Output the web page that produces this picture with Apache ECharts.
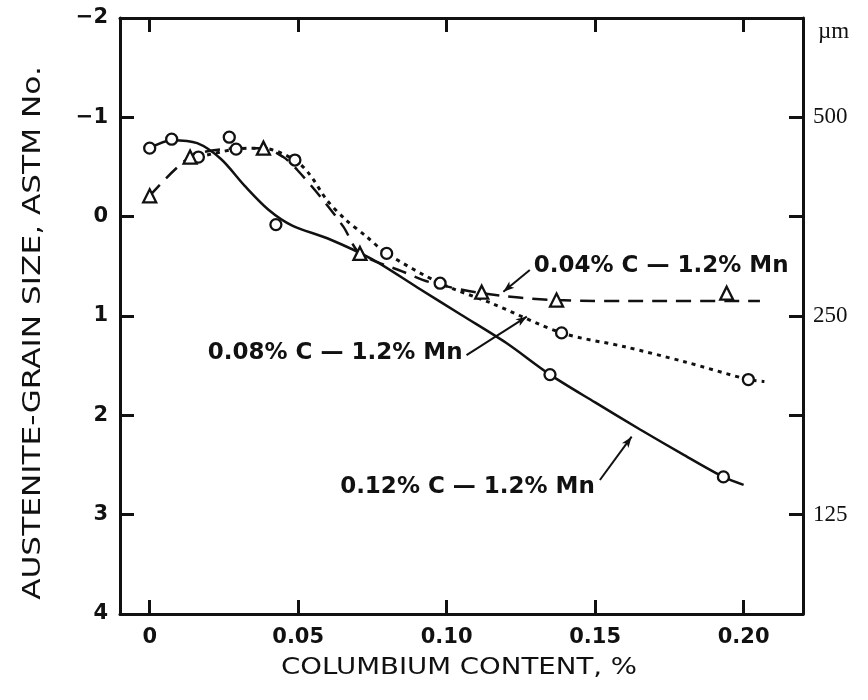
<!DOCTYPE html>
<html><head><meta charset="utf-8">
<script src="https://cdn.jsdelivr.net/npm/echarts@6/dist/echarts.min.js"></script>
<style>html,body{margin:0;padding:0;background:#fff}#c{width:868px;height:700px}</style>
</head><body><div id="c"></div>
<script>
// ---- axis ticks / labels ----
const xTicks = [0, 0.05, 0.10, 0.15, 0.20];
const yTickValues = [-2, -1, 0, 1, 2, 3, 4];
const rightLabelValues = [-1, 1, 3];
const rightLabelTexts = ['500', '250', '125'];
const rightUnit = 'µm';
const xTitle = 'COLUMBIUM CONTENT, %';
const yTitle = 'AUSTENITE-GRAIN SIZE, ASTM No.';

// ---- 0.12% C - 1.2% Mn (solid, circles) ----
const c12Name = '0.12% C — 1.2% Mn';
const c12Points = [[0.0,-0.69],[0.0074,-0.78],[0.0425,0.08],[0.1348,1.59],[0.1932,2.62]];
const c12Curve = [[0.0,-0.69],[0.0074,-0.77],[0.016,-0.74],[0.024,-0.58],[0.032,-0.31],[0.040,-0.07],
  [0.048,0.09],[0.060,0.22],[0.075,0.43],[0.09,0.71],[0.105,0.99],[0.12,1.27],[0.1348,1.59],
  [0.15,1.87],[0.165,2.14],[0.18,2.40],[0.1932,2.62],[0.2,2.70]];

// ---- 0.08% C - 1.2% Mn (dotted, circles) ----
const c08Name = '0.08% C — 1.2% Mn';
const c08Points = [[0.0164,-0.60],[0.0268,-0.80],[0.0291,-0.68],[0.0489,-0.57],[0.0798,0.37],[0.0978,0.67],[0.1387,1.17],[0.2016,1.64]];
const c08Curve = [[0.0164,-0.60],[0.0291,-0.68],[0.038,-0.69],[0.0489,-0.57],[0.054,-0.42],[0.0596,-0.17],
  [0.066,0.03],[0.073,0.20],[0.0798,0.37],[0.0978,0.67],[0.115,0.87],[0.1387,1.17],[0.16,1.31],
  [0.18,1.46],[0.2016,1.64],[0.207,1.66]];

// ---- 0.04% C - 1.2% Mn (dashed, triangles) ----
const c04Name = '0.04% C — 1.2% Mn';
const c04Points = [[0.0,-0.21],[0.0136,-0.60],[0.0383,-0.69],[0.0708,0.37],[0.1118,0.76],[0.137,0.84],[0.1943,0.77]];
const c04Curve = [[0.0,-0.21],[0.0136,-0.60],[0.025,-0.68],[0.0383,-0.69],[0.045,-0.60],[0.0497,-0.47],
  [0.0575,-0.20],[0.0652,0.10],[0.0708,0.37],[0.085,0.55],[0.0944,0.66],[0.1118,0.77],[0.137,0.84],
  [0.17,0.85],[0.2055,0.85]];

// ---- annotation arrows (data coords: from -> to) ----
const note04 = {from:[0.128,0.537], to:[0.1191,0.755]};
const note08 = {from:[0.1067,1.393], to:[0.127,1.007]};
const note12 = {from:[0.1516,2.651], to:[0.1623,2.215]};

const chart = echarts.init(document.getElementById('c'));
const BLACK = '#111';
const tickFont = {color: BLACK, fontFamily: 'DejaVu Sans', fontWeight: 'bold', fontSize: 21};
const frameLine = {onZero:false, lineStyle:{color:BLACK, width:3}};
const inTick = {inside:true, length:14, lineStyle:{width:3, color:BLACK}};

function arrow(n){
  return {symbol:['none','arrow'], symbolSize:[6,11], silent:true, animation:false,
    lineStyle:{color:BLACK, width:2, type:'solid'}, label:{show:false},
    emphasis:{disabled:true},
    data:[[{coord:n.from},{coord:n.to}]]};
}
function curve(name, data, type, width, note){
  return {type:'line', name, data, showSymbol:false, smooth:0.3, z:2,
    lineStyle:{color:BLACK, width, type, cap:'butt'}, markLine: arrow(note)};
}
function marks(name, data, symbol, size){
  return {type:'scatter', name, data, symbol, symbolSize:size, z:5,
    itemStyle:{color:'#fff', borderColor:BLACK, borderWidth:2.3, opacity:1}};
}

chart.setOption({
  animation:false,
  backgroundColor:'#fff',
  grid:{left:120, right:65, top:18, bottom:86},
  xAxis:[{
    type:'value', min:-0.01, max:0.22, position:'bottom',
    axisLine:frameLine,
    axisTick:Object.assign({customValues:xTicks}, inTick),
    axisLabel:Object.assign({margin:13, customValues:xTicks, formatter:v=> v===0?'0':v.toFixed(2)}, tickFont),
    splitLine:{show:false}
  },{
    type:'value', min:-0.01, max:0.22, position:'top',
    axisLine:frameLine,
    axisTick:Object.assign({customValues:xTicks}, inTick),
    axisLabel:{show:false}, splitLine:{show:false}
  }],
  yAxis:[{
    type:'value', min:-2, max:4, interval:1, inverse:true, position:'left',
    axisLine:frameLine,
    axisTick:inTick,
    axisLabel:Object.assign({margin:12, formatter:v=> v<0 ? '−'+(-v) : String(v)}, tickFont),
    splitLine:{show:false}
  },{
    type:'value', min:-2, max:4, interval:1, inverse:true, position:'right',
    axisLine:frameLine,
    axisTick:inTick,
    axisLabel:{margin:10, color:BLACK, fontFamily:'Liberation Serif', fontSize:23,
      formatter:v=>{const i=rightLabelValues.indexOf(v); return i>=0?rightLabelTexts[i]:'';}},
    splitLine:{show:false}
  }],
  series:[
    curve(c12Name, c12Curve, 'solid', 2.5, note12),
    curve(c08Name, c08Curve, [4,5], 3, note08),
    curve(c04Name, c04Curve, [15,9], 2.5, note04),
    marks(c12Name, c12Points, 'circle', 11),
    marks(c08Name, c08Points, 'circle', 11),
    marks(c04Name, c04Points, 'triangle', 13)
  ]
});

function px(p){ return chart.convertToPixel({xAxisIndex:0, yAxisIndex:0}, p); }
const noteFont = {fontFamily:'DejaVu Sans', fontWeight:'bold', fontSize:23, fill:BLACK, verticalAlign:'middle'};
const p04 = px(note04.from), p08 = px(note08.from), p12 = px(note12.from);
chart.setOption({graphic:[
  {type:'text', x:p04[0]+4, y:p04[1]-4, style:Object.assign({text:c04Name, align:'left'}, noteFont)},
  {type:'text', x:p08[0]-4, y:p08[1]-2, style:Object.assign({text:c08Name, align:'right'}, noteFont)},
  {type:'text', x:p12[0]-5, y:p12[1]+7, style:Object.assign({text:c12Name, align:'right'}, noteFont)},
  {type:'text', x:818, y:32, style:{text:rightUnit, fontFamily:'Liberation Serif', fontSize:23, fill:BLACK, align:'left', verticalAlign:'middle'}},
  {type:'text', x:459, y:668, scaleX:1.2, style:{text:xTitle, fontFamily:'DejaVu Sans', fontSize:23, fill:BLACK, align:'center', verticalAlign:'middle'}},
  {type:'text', x:34, y:333, rotation:Math.PI/2, scaleX:1.3, style:{text:yTitle, fontFamily:'DejaVu Sans', fontSize:24, fill:BLACK, align:'center', verticalAlign:'middle'}}
]});
</script></body></html>
